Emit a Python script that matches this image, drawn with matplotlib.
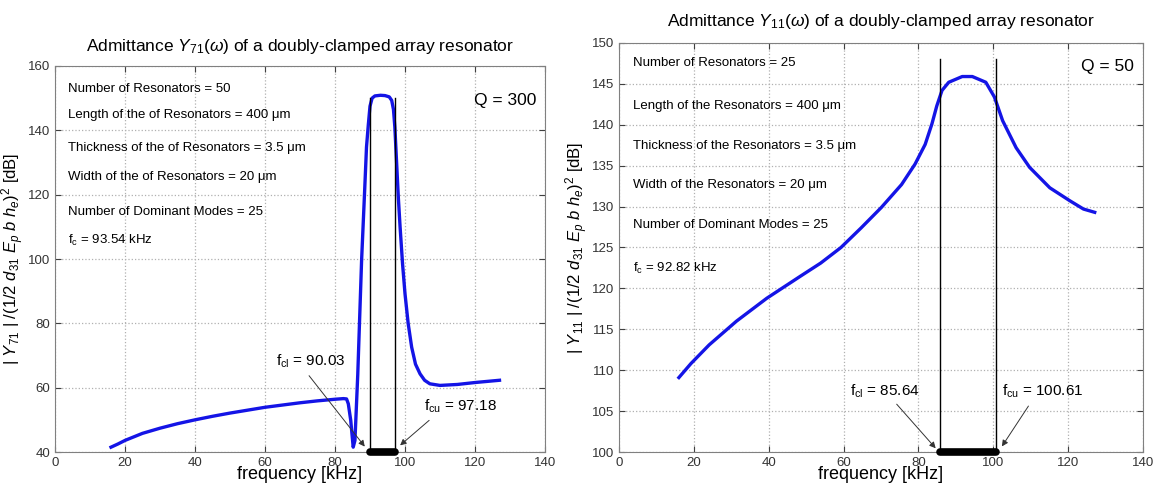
import matplotlib
matplotlib.use("Agg")
import matplotlib.pyplot as plt

plt.rcParams['font.family'] = ['Liberation Sans', 'DejaVu Sans']
plt.rcParams['mathtext.fontset'] = 'custom'
plt.rcParams['mathtext.rm'] = 'Liberation Sans'
plt.rcParams['mathtext.it'] = 'Liberation Sans:italic'
plt.rcParams['mathtext.bf'] = 'Liberation Sans:bold'

# ---------------- data: left panel (Y71, Q = 300) ----------------
freq_71 = [16, 18, 20, 25, 30, 35, 40, 45, 50, 55, 60, 65, 70, 75, 80, 82.4,
           83.3, 83.8, 84.5, 84.9, 85.2, 85.7, 86.5, 87.6, 88.5, 89.0, 89.5,
           90.0, 90.6, 91.4, 93.0, 94.3, 95.5, 96.2, 96.7, 97.1, 97.6, 98.1,
           98.6, 99.3, 100.0, 100.9, 101.9, 103.0, 104.3, 105.6, 107.1,
           110.0, 115.0, 120.0, 127.0]
ydb_71 = [41.5, 42.5, 43.6, 45.8, 47.4, 48.8, 50.0, 51.1, 52.1, 53.0, 53.9, 54.6,
          55.3, 55.9, 56.4, 56.6, 56.5, 55.0, 49.8, 45.0, 41.5, 43.6, 64.0,
          99.6, 122.0, 134.8, 141.5, 147.5, 150.0, 150.7, 150.9, 150.8, 150.4,
          149.3, 146.5, 141.0, 130.0, 119.0, 109.9, 98.5, 89.2, 80.0, 72.6,
          67.3, 64.3, 62.3, 61.2, 60.7, 61.0, 61.6, 62.3]
fcl_71, fcu_71 = 90.03, 97.18
top_71 = 150.0
info_71 = ["Number of Resonators = 50",
           "Length of the of Resonators = 400 \u03bcm",
           "Thickness of the of Resonators = 3.5 \u03bcm",
           "Width of the of Resonators = 20 \u03bcm",
           "Number of Dominant Modes = 25",
           r"$\mathregular{f_c}$ = 93.54 kHz"]
info_y_71 = [152.7, 144.9, 134.5, 125.5, 114.6, 105.8]

# ---------------- data: right panel (Y11, Q = 50) ----------------
freq_11 = [16.0, 19.2, 24.1, 31.4, 39.5, 48.5, 53.9, 59.3, 64.7, 70.1, 75.5,
           79.1, 81.8, 83.6, 84.9, 86.3, 88.1, 91.7, 94.4, 98.0, 100.3,
           102.5, 106.1, 109.7, 115.1, 120.5, 124.1, 127.1]
ydb_11 = [109.1, 110.8, 113.1, 116.0, 118.8, 121.5, 123.1, 125.0, 127.4, 129.9,
          132.7, 135.2, 137.6, 140.1, 142.3, 144.2, 145.2, 145.9, 145.9, 145.2,
          143.4, 140.5, 137.2, 134.8, 132.3, 130.7, 129.7, 129.3]
fcl_11, fcu_11 = 85.64, 100.61
top_11 = 148.0
info_11 = ["Number of Resonators = 25",
           "Length of the Resonators = 400 \u03bcm",
           "Thickness of the Resonators = 3.5 \u03bcm",
           "Width of the Resonators = 20 \u03bcm",
           "Number of Dominant Modes = 25",
           r"$\mathregular{f_c}$ = 92.82 kHz"]
info_y_11 = [147.5, 142.3, 137.4, 132.6, 127.8, 122.4]

BLUE = '#1414e6'
GRID = '#b0b0b0'


def style_axes(ax, yticks):
    ax.set_xlim(0, 140)
    ax.set_xticks(range(0, 141, 20))
    ax.set_yticks(yticks)
    ax.set_ylim(yticks[0], yticks[-1])
    ax.grid(True, linestyle=':', color=GRID, linewidth=0.9)
    ax.tick_params(direction='in', labelsize=9.5, colors='#404040',
                   length=4, top=True, right=True, labeltop=False,
                   labelright=False)
    ax.tick_params(axis='both', labelcolor='#333333')
    for s in ax.spines.values():
        s.set_color('#808080')
        s.set_linewidth(0.8)
    ax.set_xlabel('frequency [kHz]', fontsize=13, labelpad=-2)


def panel(ax, freq, ydb, fcl, fcu, top, info, info_y, qtxt, qy, idx,
          yticks, lab_cl, lab_cu, tpad):
    style_axes(ax, yticks)
    ymin = yticks[0]
    ax.plot(freq, ydb, color=BLUE, linewidth=2.4, zorder=3)
    ax.plot([fcl, fcl], [ymin, top], color='black', linewidth=1.0, zorder=4)
    ax.plot([fcu, fcu], [ymin, top], color='black', linewidth=1.0, zorder=4)
    ax.plot([fcl, fcu], [ymin, ymin], color='black', linewidth=5.5,
            solid_capstyle='round', clip_on=False, zorder=5)
    for t, y in zip(info, info_y):
        ax.text(3.7, y, t, fontsize=9.5, va='center', ha='left')
    ax.text(137.5, qy, qtxt, fontsize=12.5, va='center', ha='right')
    # annotations
    (tx, ty), (ax_t, ay_t), (hx, hy) = lab_cl
    ax.text(tx, ty, r"$\mathregular{f_{cl}}$ = %.2f" % fcl, fontsize=11,
            va='bottom', ha='left')
    ax.annotate('', xy=(hx, hy), xytext=(ax_t, ay_t),
                arrowprops=dict(arrowstyle='-|>', color='#333333', lw=0.7,
                                mutation_scale=9))
    (tx, ty), (ax_t, ay_t), (hx, hy) = lab_cu
    ax.text(tx, ty, r"$\mathregular{f_{cu}}$ = %.2f" % fcu, fontsize=11,
            va='bottom', ha='left')
    ax.annotate('', xy=(hx, hy), xytext=(ax_t, ay_t),
                arrowprops=dict(arrowstyle='-|>', color='#333333', lw=0.7,
                                mutation_scale=9))
    ax.set_title(r'Admittance $Y_{%s}$($\omega$) of a doubly-clamped array resonator' % idx,
                 fontsize=12.5, pad=tpad)
    ax.set_ylabel(r'$|\ Y_{%s}\ |\ /(1/2\ d_{31}\ E_p\ b\ h_e)^2$ [dB]' % idx,
                  fontsize=12, labelpad=1)


fig = plt.figure(figsize=(11.57, 4.86), dpi=100)
ax1 = fig.add_axes([55 / 1157, 34 / 486, 490 / 1157, 386 / 486])
ax2 = fig.add_axes([619 / 1157, 34 / 486, 524 / 1157, 409 / 486])

panel(ax1, freq_71, ydb_71, fcl_71, fcu_71, top_71, info_71, info_y_71,
      'Q = 300', 149.3, '71', list(range(40, 161, 20)),
      ((63.0, 65.5), (72.1, 64.4), (89.0, 41.0)),
      ((105.4, 51.5), (107.5, 50.4), (98.0, 41.5)), 11)
panel(ax2, freq_11, ydb_11, fcl_11, fcu_11, top_11, info_11, info_y_11,
      'Q = 50', 147.1, '11', list(range(100, 151, 5)),
      ((61.8, 106.3), (73.7, 106.1), (85.1, 100.2)),
      ((102.4, 106.3), (109.8, 105.9), (101.9, 100.4)), 12)

fig.savefig('out.png', dpi=100)
